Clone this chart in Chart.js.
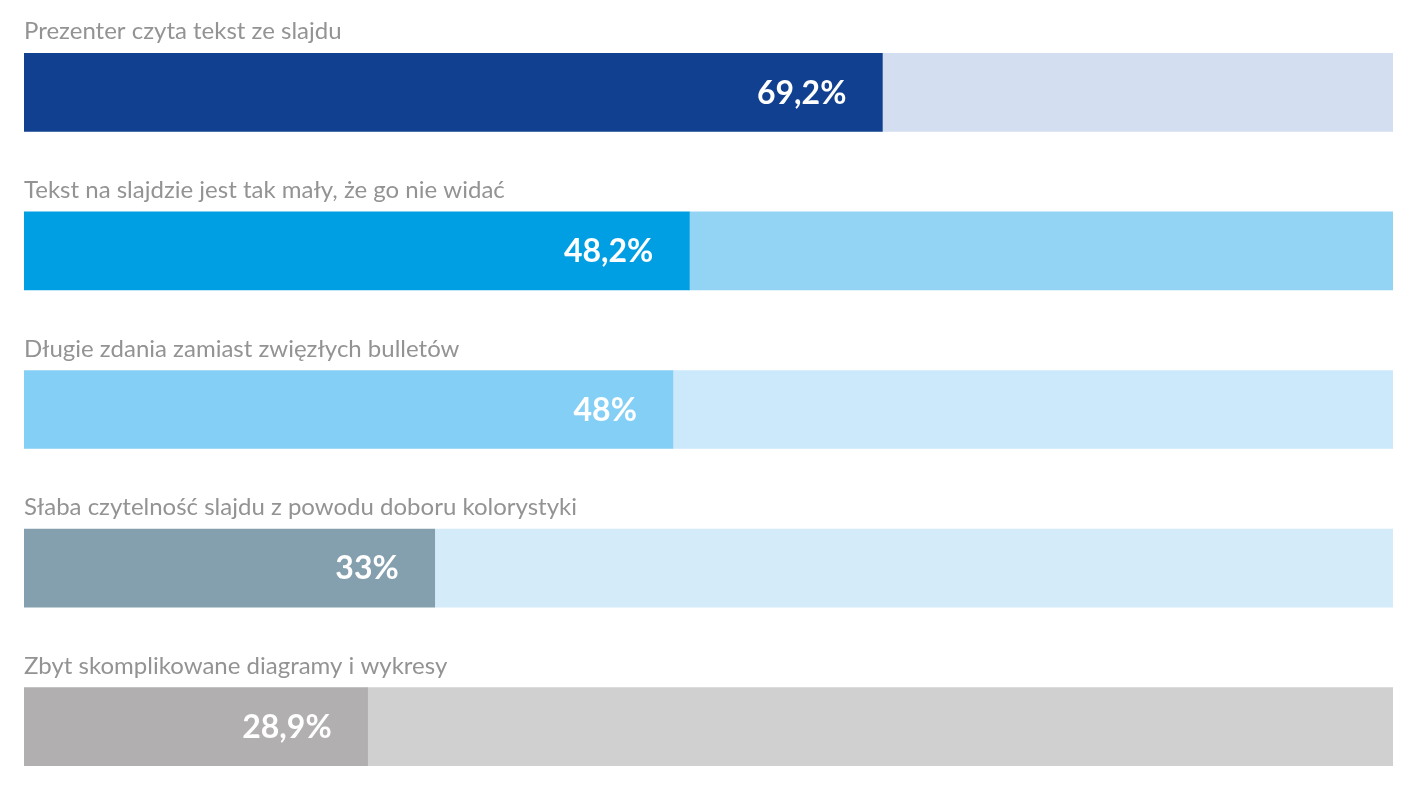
<!DOCTYPE html>
<html>
<head>
<meta charset="utf-8">
<script src="https://cdn.jsdelivr.net/npm/chart.js@4/dist/chart.umd.min.js"></script>
<style>
html,body{margin:0;padding:0;background:#fff;}
#wrap{position:relative;width:1424px;height:809px;}
</style>
</head>
<body>
<div id="wrap"><canvas id="c" width="1424" height="809"></canvas></div>
<script>
const categories = [
  "Prezenter czyta tekst ze slajdu",
  "Tekst na slajdzie jest tak mały, że go nie widać",
  "Długie zdania zamiast zwięzłych bulletów",
  "Słaba czytelność slajdu z powodu doboru kolorystyki",
  "Zbyt skomplikowane diagramy i wykresy"
];
const valueLabels = ["69,2%", "48,2%", "48%", "33%", "28,9%"];
// bar lengths (share of the full track, %)
const barLengths = [62.7, 48.6, 47.4, 30.0, 25.1];
const trackMax = 100;
const barColors = ["#10408f", "#009fe3", "#84cff5", "#849fae", "#b1afb0"];
const trackColors = ["#d3def0", "#93d4f5", "#cce9fb", "#d4ebfa", "#d0d0d0"];

const remainder = barLengths.map(v => trackMax - v);

const textPlugin = {
  id: 'texts',
  afterDatasetsDraw(chart) {
    const ctx = chart.ctx;
    const meta = chart.getDatasetMeta(0);
    ctx.save();
    meta.data.forEach((bar, i) => {
      const top = bar.y - bar.height / 2;
      ctx.font = '24px Lato';
      ctx.fillStyle = '#939393';
      ctx.textAlign = 'left';
      ctx.textBaseline = 'alphabetic';
      ctx.fillText(categories[i], chart.chartArea.left, top - 14);
      ctx.font = 'bold 32px Lato';
      ctx.fillStyle = '#ffffff';
      ctx.textAlign = 'right';
      ctx.textBaseline = 'middle';
      ctx.fillText(valueLabels[i], bar.x - 36, bar.y + 1);
    });
    ctx.restore();
  }
};

function draw() {
  new Chart(document.getElementById('c'), {
    type: 'bar',
    data: {
      labels: categories,
      datasets: [
        { data: barLengths, backgroundColor: barColors, barThickness: 78, borderWidth: 0 },
        { data: remainder, backgroundColor: trackColors, barThickness: 78, borderWidth: 0 }
      ]
    },
    options: {
      indexAxis: 'y',
      responsive: false,
      animation: false,
      layout: { padding: { left: 24, right: 31, top: 13, bottom: 3 } },
      plugins: { legend: { display: false }, tooltip: { enabled: false } },
      scales: {
        x: { stacked: true, min: 0, max: trackMax, display: false },
        y: { stacked: true, display: false }
      }
    },
    plugins: [textPlugin]
  });
}
Promise.all([document.fonts.load('24px Lato'), document.fonts.load('bold 32px Lato')]).then(draw, draw);
</script>
</body>
</html>
